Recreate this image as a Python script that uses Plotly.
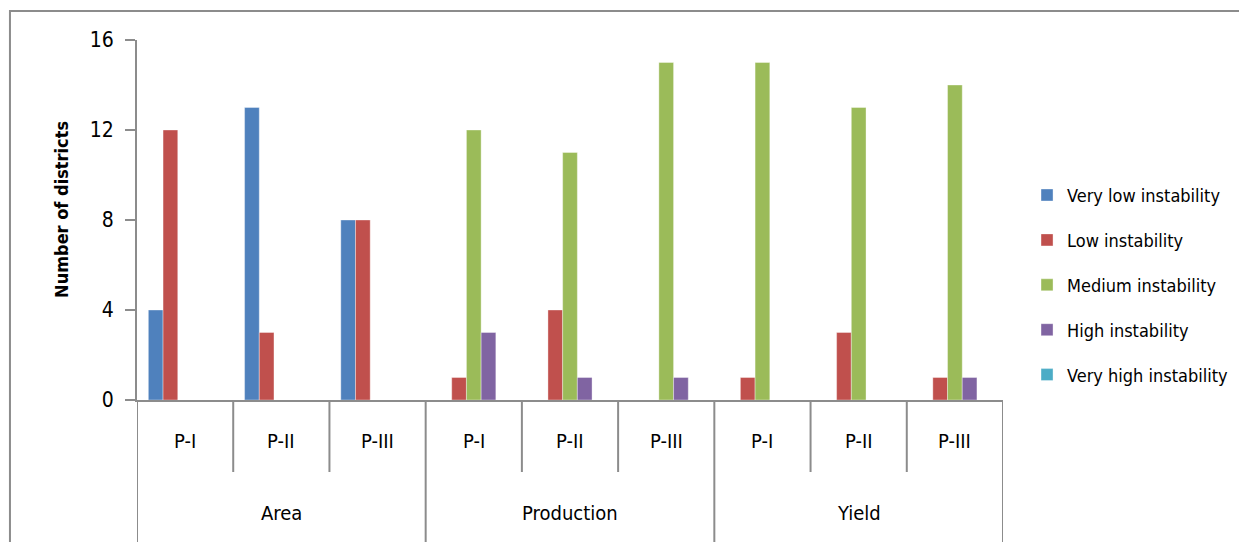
import plotly.graph_objects as go

groups = ["Area", "Production", "Yield"]
periods = ["P-I", "P-II", "P-III"]
series_names = ["Very low instability", "Low instability", "Medium instability",
                "High instability", "Very high instability"]
very_low = [4, 13, 8, 0, 0, 0, 0, 0, 0]
low = [12, 3, 8, 1, 4, 0, 1, 3, 1]
medium = [0, 0, 0, 12, 11, 15, 15, 13, 14]
high = [0, 0, 0, 3, 1, 1, 0, 0, 1]
very_high = [0, 0, 0, 0, 0, 0, 0, 0, 0]
colors = ["#4F81BD", "#C0504D", "#9BBB59", "#8064A2", "#4BACC6"]

FONT = "DejaVu Sans Condensed, Liberation Sans Narrow, Liberation Sans, sans-serif"
GRAY = "#8C8C8C"

n_per = len(periods)
xs = list(range(len(groups) * n_per))

fig = go.Figure()
for i, (name, vals) in enumerate(zip(series_names, [very_low, low, medium, high, very_high])):
    fig.add_trace(go.Bar(
        x=xs, y=vals, name=name, legendgroup=name,
        marker=dict(color=colors[i], line=dict(color="rgba(255,255,255,0.6)", width=0.6)),
    ))

shapes = []
annotations = []
for gi, g in enumerate(groups):
    for pi, p in enumerate(periods):
        idx = gi * n_per + pi
        annotations.append(dict(x=idx, y=-0.114, xref="x", yref="paper", text=p,
                                showarrow=False, font=dict(family=FONT, size=20, color="black"),
                                xanchor="center", yanchor="middle"))
        if pi > 0:
            shapes.append(dict(type="line", xref="x", yref="paper", x0=idx - 0.5, x1=idx - 0.5,
                               y0=0, y1=-0.2, line=dict(color=GRAY, width=2)))
    annotations.append(dict(x=gi * n_per + (n_per - 1) / 2, y=-0.314, xref="x", yref="paper", text=g,
                            showarrow=False, font=dict(family=FONT, size=20, color="black"),
                            xanchor="center", yanchor="middle"))
for b in range(len(groups) + 1):
    xb = b * n_per - 0.5
    shapes.append(dict(type="line", xref="x", yref="paper", x0=xb, x1=xb,
                       y0=0, y1=-0.403, line=dict(color=GRAY, width=2)))

# outer chart border
shapes.append(dict(type="rect", xref="paper", yref="paper", x0=-0.1467, x1=1.6, y0=1.0806, y1=-0.6,
                   line=dict(color=GRAY, width=2), fillcolor="rgba(0,0,0,0)", layer="below"))

annotations.append(dict(x=-0.0866, y=0.528, xref="paper", yref="paper", text="<b>Number of districts</b>",
                        textangle=-90, showarrow=False, font=dict(family=FONT, size=18, color="black"),
                        xanchor="center", yanchor="middle"))

fig.update_layout(
    width=1231, height=534,
    margin=dict(l=129, r=236, t=32, b=142, autoexpand=False),
    paper_bgcolor="white", plot_bgcolor="white",
    barmode="group", bargap=0.236, bargroupgap=0,
    font=dict(family=FONT, size=20, color="black"),
    xaxis=dict(range=[-0.5, len(xs) - 0.5], showticklabels=False, ticks="", showgrid=False,
               zeroline=False, showline=True, linecolor=GRAY, linewidth=2),
    yaxis=dict(range=[0, 16], dtick=4, tick0=0, ticks="outside", ticklen=10, tickwidth=2,
               tickcolor=GRAY, showgrid=False, zeroline=False, showline=True, linecolor=GRAY,
               linewidth=2, tickfont=dict(family=FONT, size=21, color="black"),
               ticklabelstandoff=7),
    legend=dict(x=0.8278, y=0.6839, xref="container", yref="container",
                xanchor="left", yanchor="top", traceorder="grouped",
                tracegroupgap=18.5, font=dict(family=FONT, size=18, color="black"),
                itemwidth=30, bgcolor="rgba(0,0,0,0)"),
    shapes=shapes, annotations=annotations,
)

fig.write_html("out.html")
